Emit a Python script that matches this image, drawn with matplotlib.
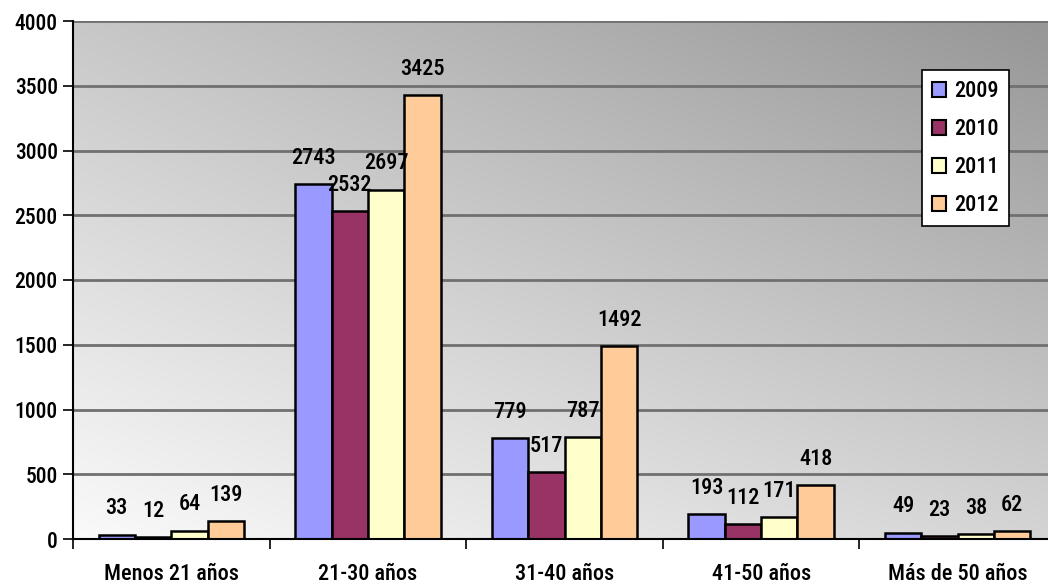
import numpy as np
import matplotlib.pyplot as plt

categories = ["Menos 21 años", "21-30 años", "31-40 años", "41-50 años", "Más de 50 años"]
years = ["2009", "2010", "2011", "2012"]
v2009 = [33, 2743, 779, 193, 49]
v2010 = [12, 2532, 517, 112, 23]
v2011 = [64, 2697, 787, 171, 38]
v2012 = [139, 3425, 1492, 418, 62]
series = [v2009, v2010, v2011, v2012]
colors = ["#9999FF", "#993366", "#FFFFCC", "#FFCC99"]

plt.rcParams['font.family'] = ["Roboto Condensed", "DejaVu Sans"]
FS = 16
WEIGHT = "medium"

fig = plt.figure(figsize=(10.48, 5.88), dpi=100)
# plot area runs a little past the right edge of the image, as in the source
ax = fig.add_axes([73 / 1048, 1 - 539 / 588, (1056 - 73) / 1048, 518 / 588])

# diagonal grey gradient: light bottom-left, dark top-right
gx, gy = np.meshgrid(np.linspace(0, 1, 300), np.linspace(0, 1, 300))
g = (250 - 38 * gx - 50 * gy - 12 * gx * gy) / 255.0
bg = np.dstack([g, g, g])
ax.imshow(bg, extent=[0, 1, 0, 1], origin="lower", transform=ax.transAxes,
          aspect="auto", zorder=0, interpolation="bilinear")

x = np.arange(len(categories))
w = 0.185
for i, (vals, c, yr) in enumerate(zip(series, colors, years)):
    pos = x + (i - 1.5) * w
    ax.bar(pos, vals, width=w, color=c, edgecolor="black", linewidth=1.8,
           label=yr, zorder=3)
    for p, v in zip(pos, vals):
        ax.annotate(str(v), (p, v), xytext=(0, 11), textcoords="offset points",
                    ha="center", va="bottom", fontsize=FS, fontweight=WEIGHT, zorder=4)

ax.set_xlim(-0.5, len(categories) - 0.5)
ax.set_ylim(0, 4000)
ax.set_yticks(np.arange(0, 4001, 500))
ax.yaxis.grid(True, color="#707070", linewidth=2.0, zorder=1)
ax.set_xticks(x)
ax.set_xticklabels(categories, fontsize=FS, fontweight=WEIGHT)
ax.set_xticks(np.arange(-0.5, len(categories)), minor=True)
ax.tick_params(axis="x", which="major", length=0, pad=17)
ax.tick_params(axis="x", which="minor", length=7, width=1.2, direction="out")
ax.tick_params(axis="y", length=7, width=1.2, labelsize=15.5, pad=4)
for t in ax.get_yticklabels():
    t.set_fontweight(WEIGHT)
for s in ["top", "right"]:
    ax.spines[s].set_visible(False)
for s in ["left", "bottom"]:
    ax.spines[s].set_linewidth(1.5)
    ax.spines[s].set_zorder(5)

leg = ax.legend(loc="upper left", bbox_to_anchor=((922 - 73) / 983, 1 - (70 - 21) / 518),
                borderaxespad=0, fancybox=False, framealpha=1, edgecolor="black",
                prop={"size": FS, "weight": WEIGHT}, handlelength=0.65,
                handleheight=0.65, handletextpad=0.35, labelspacing=0.72,
                borderpad=0.45)
leg.get_frame().set_linewidth(1.2)
for h in leg.legend_handles:
    h.set_linewidth(1.5)

fig.savefig("out.png", dpi=100)
